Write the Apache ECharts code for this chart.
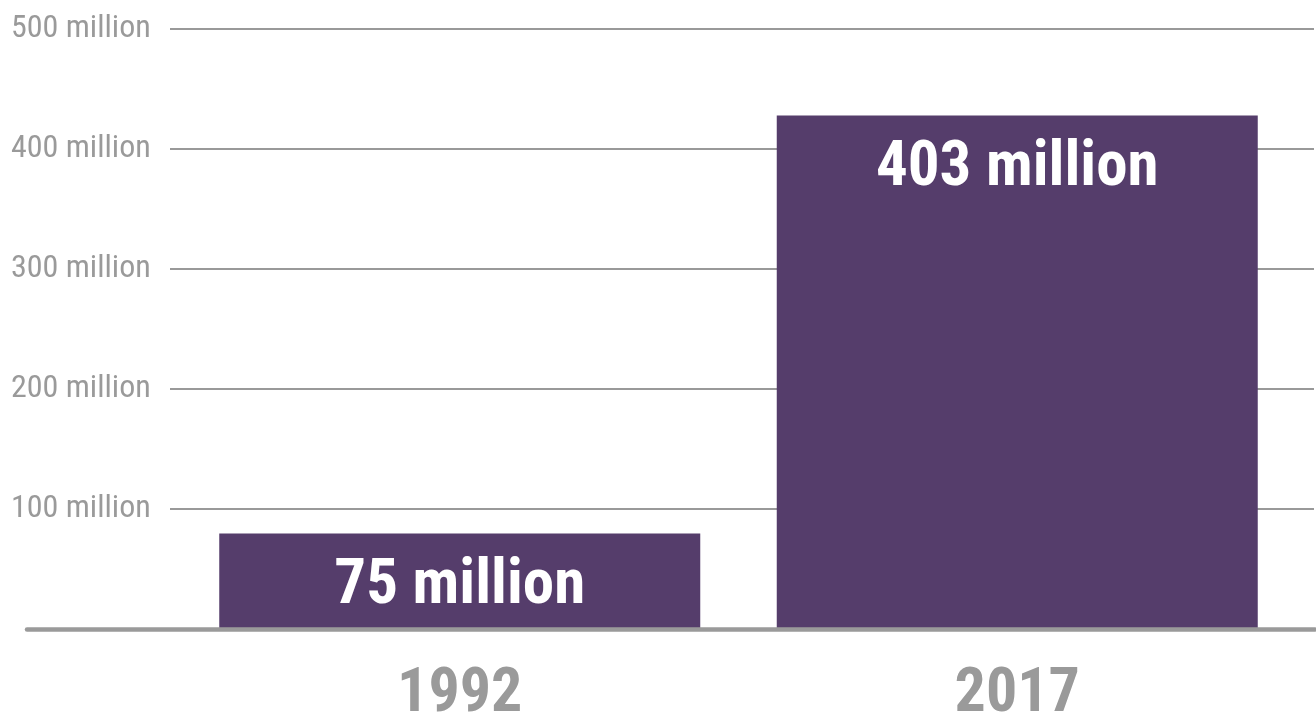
<!DOCTYPE html>
<html>
<head>
<meta charset="utf-8">
<script src="https://cdn.jsdelivr.net/npm/echarts@6/dist/echarts.min.js"></script>
<style>
html, body { margin: 0; padding: 0; background: #fff; }
#main { width: 1316px; height: 715px; }
</style>
</head>
<body>
<div id="main"></div>
<script>
// data
var years = ['1992', '2017'];
var users = [75, 403];           // millions
var tickValues = [0, 100, 200, 300, 400, 500];

var FONT = "'Roboto Condensed', 'Liberation Sans Narrow', 'DejaVu Sans Condensed', Roboto, sans-serif";
var GRAY = '#9a9a9a';
var PURPLE = '#553d6b';

var myChart = echarts.init(document.getElementById('main'));

var option = {
    animation: false,
    grid: [
        // gridlines + value labels
        { left: 170, right: 2, top: 29, bottom: 86, outerBoundsMode: 'none', containLabel: false },
        // thick base line
        { left: 27, right: 1, top: 29, bottom: 86, outerBoundsMode: 'none', containLabel: false },
        // bars
        { left: 181, right: 20, top: 29, bottom: 86, outerBoundsMode: 'none', containLabel: false }
    ],
    xAxis: [
        { gridIndex: 0, type: 'category', data: years, show: false },
        {
            gridIndex: 1, type: 'category', data: years, z: 5,
            axisLine: { lineStyle: { color: GRAY, width: 4.5 } },
            axisTick: { show: false }, axisLabel: { show: false }
        },
        {
            gridIndex: 2, type: 'category', data: years,
            axisLine: { show: false }, axisTick: { show: false },
            axisLabel: {
                margin: 35,
                color: GRAY, fontSize: 62, fontWeight: 'bold', fontFamily: FONT
            }
        }
    ],
    yAxis: [
        {
            gridIndex: 0, type: 'value', min: tickValues[0], max: tickValues[tickValues.length - 1], interval: 100,
            axisLine: { show: false }, axisTick: { show: false },
            splitLine: { lineStyle: { color: '#999', width: 2 } },
            axisLabel: {
                align: 'left', margin: 159,
                color: GRAY, fontSize: 32, fontFamily: FONT,
                formatter: function (v) { return v === 0 ? '' : v + ' million'; }
            }
        },
        { gridIndex: 1, type: 'value', show: false, min: 0, max: 500 },
        { gridIndex: 2, type: 'value', show: false, min: 0, max: 471 }
    ],
    series: [
        {
            type: 'bar', xAxisIndex: 2, yAxisIndex: 2,
            data: users,
            barWidth: 481,
            itemStyle: { color: PURPLE },
            label: {
                show: true, position: 'insideTop', distance: 22,
                color: '#fff', fontSize: 63, fontWeight: 'bold', fontFamily: FONT,
                formatter: '{c} million'
            }
        }
    ]
};

myChart.setOption(option);
</script>
</body>
</html>
